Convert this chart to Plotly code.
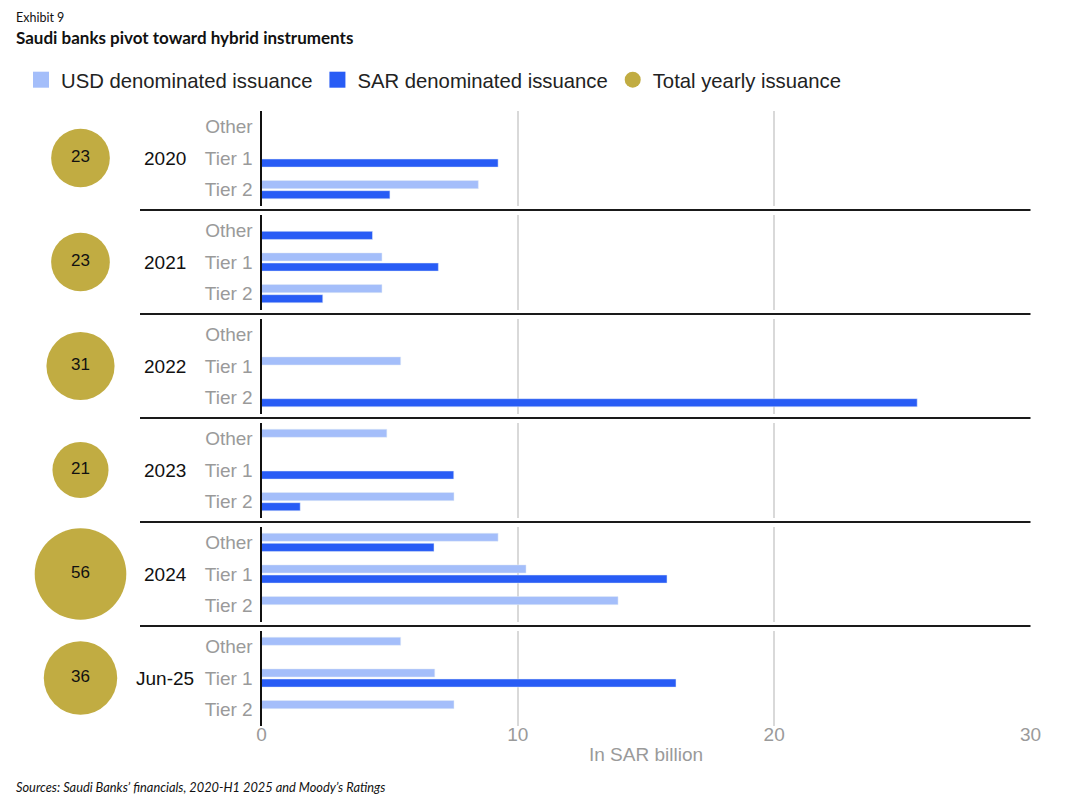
import plotly.graph_objects as go
from plotly.subplots import make_subplots

# ---------------- data ----------------
years = ["2020", "2021", "2022", "2023", "2024", "Jun-25"]
categories = ["Other", "Tier 1", "Tier 2"]
usd_2020 = [None, None, 8.46]
usd_2021 = [None, 4.70, 4.70]
usd_2022 = [None, 5.43, None]
usd_2023 = [4.89, None, 7.51]
usd_2024 = [9.23, 10.32, 13.91]
usd_2025 = [5.43, 6.76, 7.51]
sar_2020 = [None, 9.23, 5.01]
sar_2021 = [4.33, 6.90, 2.39]
sar_2022 = [None, None, 25.58]
sar_2023 = [None, 7.50, 1.51]
sar_2024 = [6.73, 15.82, None]
sar_2025 = [None, 16.17, None]
usd = [usd_2020, usd_2021, usd_2022, usd_2023, usd_2024, usd_2025]
sar = [sar_2020, sar_2021, sar_2022, sar_2023, sar_2024, sar_2025]
totals = [23, 23, 31, 21, 56, 36]
x_ticks = [0, 10, 20, 30]

# ---------------- style ----------------
PAGE = 8                      # default body margin of the html page
W, H = 1092 - PAGE, 804 - PAGE
USD_C = "#A4BEFA"
SAR_C = "#285CF5"
GOLD = "#C1AC42"
GRAY = "#9A9A9A"
FONT = "Liberation Sans"
N = len(years)
X0, X1 = 261.5, 1030.5        # screen px of x=0 and x=30
PERIOD, C0, HALF = 104, 158, 47.5


def px(p):
    return (p - PAGE) / W


def py(p):
    return 1 - (p - PAGE) / H


fig = make_subplots(rows=N, cols=1, shared_xaxes=True, vertical_spacing=0.01)

# legend-only entries (larger swatches)
fig.add_trace(go.Scatter(x=[None], y=[None], mode="markers", name="USD denominated issuance",
                         marker=dict(symbol="square", size=16, color=USD_C), legendrank=1), row=1, col=1)
fig.add_trace(go.Scatter(x=[None], y=[None], mode="markers", name="SAR denominated issuance",
                         marker=dict(symbol="square", size=16, color=SAR_C), legendrank=2), row=1, col=1)

for i in range(N):
    fig.add_trace(go.Bar(y=categories, x=usd[i], orientation="h", marker_color=USD_C,
                         name="USD denominated issuance", showlegend=False), row=i + 1, col=1)
    fig.add_trace(go.Bar(y=categories, x=sar[i], orientation="h", marker_color=SAR_C,
                         name="SAR denominated issuance", showlegend=False), row=i + 1, col=1)

# total yearly issuance bubbles on their own axis pair
sizeref = 2 / 149.8
fig.add_trace(go.Scatter(
    x=[0.5] * N, y=years, xaxis="x7", yaxis="y7", mode="markers+text",
    marker=dict(size=totals, sizemode="area", sizeref=sizeref, color=GOLD, opacity=1,
                line=dict(width=0)),
    text=[str(t) for t in totals], textposition="middle center",
    textfont=dict(family=FONT, size=17, color="#111111"),
    name="Total yearly issuance", cliponaxis=False, legendrank=3, hoverinfo="skip"))

layout_axes = {}
for i in range(N):
    c = C0 + PERIOD * i
    sfx = "" if i == 0 else str(i + 1)
    layout_axes["yaxis" + sfx] = dict(
        domain=[py(c + HALF), py(c - HALF)], type="category",
        categoryorder="array", categoryarray=categories, range=[2.5, -0.5],
        showline=True, linecolor="#111111", linewidth=2, ticks="", showgrid=False,
        tickfont=dict(family=FONT, size=19, color=GRAY), ticklabelstandoff=3,
        zeroline=False, fixedrange=True, automargin=False)
    layout_axes["xaxis" + sfx] = dict(
        domain=[px(X0), px(X1)], range=[0, 30], tickvals=x_ticks,
        showgrid=True, gridcolor="#D9D9D9", gridwidth=1.5, zeroline=False,
        showline=False, ticks="", showticklabels=(i == N - 1), ticklabelstandoff=-5,
        tickfont=dict(family=FONT, size=19, color=GRAY), fixedrange=True, automargin=False)

layout_axes["xaxis6"]["title"] = dict(text="In SAR billion", font=dict(family=FONT, size=19, color=GRAY), standoff=4)

# bubble column: centred at screen x = 80.5
layout_axes["xaxis7"] = dict(domain=[0, px(153)], range=[0, 1], visible=False,
                             anchor="y7", fixedrange=True, automargin=False)
layout_axes["yaxis7"] = dict(domain=[py(C0 + PERIOD * (N - 1) + PERIOD / 2), py(C0 - PERIOD / 2)],
                             type="category", categoryorder="array", categoryarray=years,
                             range=[N - 0.5, -0.5], visible=False, anchor="x7", fixedrange=True,
                             automargin=False)

fig.update_layout(**layout_axes)

shapes = []
for i in range(N - 1):
    yp = C0 + PERIOD * i + PERIOD / 2
    shapes.append(dict(type="line", xref="paper", yref="paper", x0=px(140), x1=px(X1),
                       y0=py(yp), y1=py(yp), line=dict(color="#1A1A1A", width=2)))

annotations = []
for i, y in enumerate(years):
    annotations.append(dict(text=y, x=px(165), xref="paper", y=i, yref="y7", showarrow=False,
                            xanchor="center", yanchor="middle",
                            font=dict(family=FONT, size=19, color="#111111")))
annotations += [
    dict(text="Exhibit 9", x=px(14), y=py(17), xref="paper", yref="paper", showarrow=False,
         xanchor="left", yanchor="middle", font=dict(family="Lato", size=12.5, color="#111111")),
    dict(text="<b>Saudi banks pivot toward hybrid instruments</b>", x=px(14), y=py(38),
         xref="paper", yref="paper", showarrow=False, xanchor="left", yanchor="middle",
         font=dict(family="Lato", size=17, color="#111111")),
    dict(text="<i>Sources: Saudi Banks’ financials, 2020-H1 2025 and Moody’s Ratings</i>",
         x=px(14), y=py(787), xref="paper", yref="paper", showarrow=False,
         xanchor="left", yanchor="middle", font=dict(family="Lato", size=12.8, color="#111111")),
]

fig.update_layout(
    width=W, height=H, margin=dict(l=0, r=0, t=0, b=0, autoexpand=False),
    paper_bgcolor="white", plot_bgcolor="white",
    barmode="group", bargap=0.36, bargroupgap=0.2,
    shapes=shapes, annotations=annotations,
    legend=dict(orientation="h", x=px(21), y=py(80), xanchor="left", yanchor="middle",
                font=dict(family=FONT, size=20.3, color="#222222"), itemsizing="trace",
                traceorder="normal", bgcolor="rgba(0,0,0,0)"),
    font=dict(family=FONT),
)

fig.write_html("out.html")
